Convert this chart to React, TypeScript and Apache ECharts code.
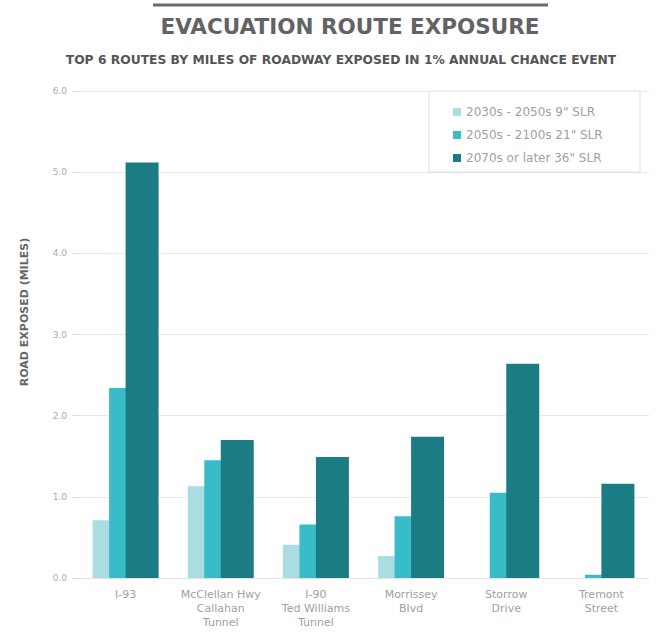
import React, { useEffect, useRef } from "react";
import * as echarts from "echarts";

const categories = [
  "I-93",
  "McClellan Hwy\nCallahan\nTunnel",
  "I-90\nTed Williams\nTunnel",
  "Morrissey\nBlvd",
  "Storrow\nDrive",
  "Tremont\nStreet",
];
const seriesNames = [
  "2030s - 2050s 9\" SLR",
  "2050s - 2100s 21\" SLR",
  "2070s or later 36\" SLR",
];
const slr9 = [0.71, 1.13, 0.41, 0.27, 0, 0];
const slr21 = [2.34, 1.45, 0.66, 0.76, 1.05, 0.04];
const slr36 = [5.12, 1.7, 1.49, 1.74, 2.64, 1.16];
const colors = ["#a9dde2", "#38bdc8", "#1b7c84"];
const FONT = "'DejaVu Sans'";

export default function App() {
  const ref = useRef<HTMLDivElement>(null);
  useEffect(() => {
    const chart = echarts.init(ref.current!, null, { renderer: "svg" });
    const data = [slr9, slr21, slr36];
    chart.setOption({
      animation: false,
      textStyle: { fontFamily: "DejaVu Sans" },
      grid: { left: 78, right: 11, top: 91, bottom: 56 },
      graphic: [
        {
          type: "line",
          shape: { x1: 153, y1: 5, x2: 548, y2: 5 },
          style: { stroke: "#6b6b6d", lineWidth: 3 },
        },
        {
          type: "text",
          x: 350,
          y: 26,
          style: {
            text: "EVACUATION ROUTE EXPOSURE",
            fill: "#636366",
            font: `bold 21.5px ${FONT}`,
            textAlign: "center",
            textVerticalAlign: "middle",
          },
        },
        {
          type: "text",
          x: 341,
          y: 60,
          style: {
            text: "TOP 6 ROUTES BY MILES OF ROADWAY EXPOSED IN 1% ANNUAL CHANCE EVENT",
            fill: "#555",
            font: `bold 12.3px ${FONT}`,
            textAlign: "center",
            textVerticalAlign: "middle",
          },
        },
        {
          type: "text",
          x: 24,
          y: 312,
          rotation: Math.PI / 2,
          style: {
            text: "ROAD EXPOSED (MILES)",
            fill: "#666",
            font: `bold 11px ${FONT}`,
            textAlign: "center",
            textVerticalAlign: "middle",
          },
        },
        {
          type: "rect",
          shape: { x: 429, y: 91, width: 211, height: 81 },
          style: { fill: "#fff", stroke: "#dddddd", lineWidth: 1 },
          z: 5,
        },
      ],
      legend: {
        orient: "vertical",
        left: 448,
        top: 101,
        itemWidth: 8,
        itemHeight: 8,
        itemGap: 11,
        icon: "rect",
        z: 10,
        textStyle: { color: "#a0a0a0", fontSize: 12, fontFamily: "DejaVu Sans" },
        data: seriesNames,
      },
      xAxis: {
        type: "category",
        data: categories,
        axisTick: { show: false },
        axisLine: { lineStyle: { color: "#e3e3e3" } },
        axisLabel: {
          color: "#a0a0a0",
          fontSize: 11,
          lineHeight: 14,
          margin: 9,
          interval: 0,
        },
      },
      yAxis: {
        type: "value",
        min: 0,
        max: 6,
        interval: 1,
        axisLine: { show: false },
        axisTick: { show: true, length: 6, lineStyle: { color: "#ddd" } },
        axisLabel: {
          color: "#aaa",
          fontSize: 9,
          margin: 11,
          formatter: (v: number) => v.toFixed(1),
        },
        splitLine: { lineStyle: { color: "#e8e8e8" } },
      },
      series: seriesNames.map((n, i) => ({
        name: n,
        type: "bar",
        data: data[i],
        barWidth: 33,
        barGap: "-50%",
        itemStyle: { color: colors[i] },
      })),
    });
    return () => chart.dispose();
  }, []);
  return (
    <div
      ref={ref}
      style={{ position: "fixed", left: 0, top: 0, width: 660, height: 634, background: "#fff" }}
    />
  );
}
